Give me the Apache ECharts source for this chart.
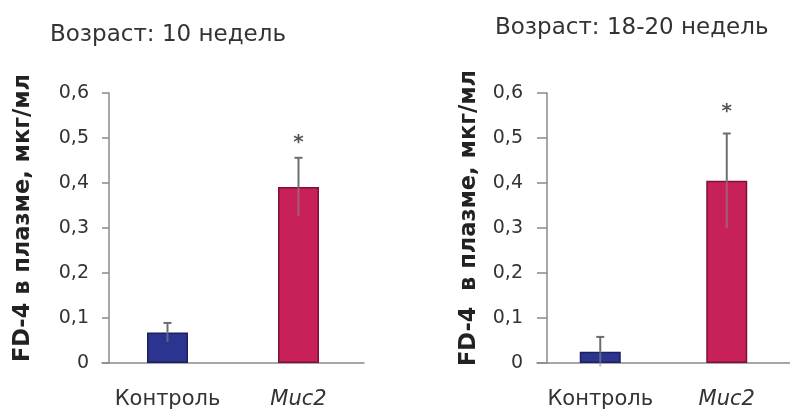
<!DOCTYPE html>
<html><head><meta charset="utf-8">
<script src="https://cdn.jsdelivr.net/npm/echarts@6/dist/echarts.min.js"></script>
<style>html,body{margin:0;padding:0;background:#fff}#c{width:790px;height:412px}</style>
</head><body><div id="c"></div>
<script>
// ---- data ----
const categories = ['Контроль', 'Muc2'];
const titles = ['Возраст: 10 недель', 'Возраст: 18-20 недель'];
const yAxisNames = ['FD-4 в плазме, мкг/мл', 'FD-4  в плазме, мкг/мл'];
const means10 = [0.068, 0.391];
const errors10 = [0.021, 0.065];
const means18 = [0.025, 0.405];
const errors18 = [0.033, 0.105];
const signif10 = ['', '*'];
const signif18 = ['', '*'];

// ---- styles ----
const FONT = 'DejaVu Sans';
const barColors = ['#2b3590', '#c8215a'];
const barBorders = ['#1b2160', '#7d1236'];
const axisColor = '#8a8a8a';

function errData(means, errs) {
  return means.map((m, i) => [i, m - errs[i], m + errs[i], m]);
}
function errRender(params, api) {
  const x = api.value(0);
  const pHi = api.coord([x, api.value(2)]);
  const pMid = api.coord([x, api.value(3)]);
  const pLo = api.coord([x, api.value(1)]);
  return { type: 'group', children: [
    { type: 'line', shape: { x1: pMid[0], y1: pMid[1], x2: pLo[0], y2: pLo[1] },
      style: { stroke: 'rgba(140,140,150,0.55)', lineWidth: 2 } },
    { type: 'line', shape: { x1: pHi[0], y1: pHi[1], x2: pMid[0], y2: pMid[1] },
      style: { stroke: '#6e6e6e', lineWidth: 2 } },
    { type: 'line', shape: { x1: pHi[0] - 4, y1: pHi[1], x2: pHi[0] + 4, y2: pHi[1] },
      style: { stroke: '#6e6e6e', lineWidth: 2 } }
  ] };
}
function makeStarRender(starOffset, sigArr) {
  return function (params, api) {
    const x = api.value(0);
    const pHi = api.coord([x, api.value(1)]);
    const sig = sigArr[params.dataIndex];
    if (!sig) return null;
    return { type: 'text', x: pHi[0], y: pHi[1] - starOffset,
      style: { text: sig, font: 'bold 20px ' + FONT, fill: '#555', align: 'center', verticalAlign: 'middle' } };
  };
}

function barData(means) {
  return means.map((v, i) => ({ value: v, itemStyle: { color: barColors[i], borderColor: barBorders[i], borderWidth: 1.5 } }));
}

const grids = [
  { left: 102, top: 93, width: 262, height: 270 },
  { left: 537, top: 93, width: 262, height: 270 }
];
const yOffsets = [-7, -10];
const labelMargins = [20, 24];

const option = {
  animation: false,
  backgroundColor: '#fff',
  title: [
    { text: titles[0], left: 45, top: 19, textStyle: { fontFamily: FONT, fontSize: 23, fontWeight: 'normal', color: '#333' } },
    { text: titles[1], left: 490, top: 12, textStyle: { fontFamily: FONT, fontSize: 23, fontWeight: 'normal', color: '#333' } }
  ],
  grid: grids,
  xAxis: [0, 1].map(g => ({
    type: 'category', gridIndex: g, data: categories,
    axisLine: { lineStyle: { color: axisColor, width: 1.5 } },
    axisTick: { show: false },
    axisLabel: {
      interval: 0, margin: 26, fontFamily: FONT, fontSize: 21, color: '#333',
      formatter: v => v === 'Muc2' ? '{i|' + v + '}' : v,
      rich: { i: { fontStyle: 'italic', fontFamily: FONT, fontSize: 21, color: '#333' } }
    }
  })),
  yAxis: [0, 1].map(g => ({
    type: 'value', gridIndex: g, min: 0, max: 0.6, interval: 0.1,
    offset: yOffsets[g],
    name: yAxisNames[g], nameLocation: 'middle', nameRotate: 90,
    nameGap: g === 0 ? 74 : 66,
    nameTextStyle: { fontFamily: FONT, fontSize: 22.5, fontWeight: 'bold', color: '#222', padding: [0, 0, 0, 20] },
    splitLine: { show: false },
    axisLine: { show: true, lineStyle: { color: axisColor, width: 1.5 } },
    axisTick: { show: true, length: g === 0 ? 7 : 10, lineStyle: { color: axisColor, width: 1.5 } },
    axisLabel: {
      margin: labelMargins[g], fontFamily: FONT, fontSize: 19, color: '#333',
      formatter: v => String(+v.toFixed(1)).replace('.', ',')
    }
  })),
  series: [
    { type: 'bar', xAxisIndex: 0, yAxisIndex: 0, barWidth: 41, data: barData(means10) },
    { type: 'bar', xAxisIndex: 1, yAxisIndex: 1, barWidth: 41, data: barData(means18) },
    { type: 'custom', xAxisIndex: 0, yAxisIndex: 0, renderItem: errRender, data: errData(means10, errors10), z: 10 },
    { type: 'custom', xAxisIndex: 1, yAxisIndex: 1, renderItem: errRender, data: errData(means18, errors18), z: 10 },
    { type: 'custom', xAxisIndex: 0, yAxisIndex: 0, renderItem: makeStarRender(15, signif10), data: means10.map((m, i) => [i, m + errors10[i]]), z: 11 },
    { type: 'custom', xAxisIndex: 1, yAxisIndex: 1, renderItem: makeStarRender(22, signif18), data: means18.map((m, i) => [i, m + errors18[i]]), z: 11 }
  ]
};
const chart = echarts.init(document.getElementById('c'), null, { renderer: 'canvas' });
chart.setOption(option);
</script></body></html>
